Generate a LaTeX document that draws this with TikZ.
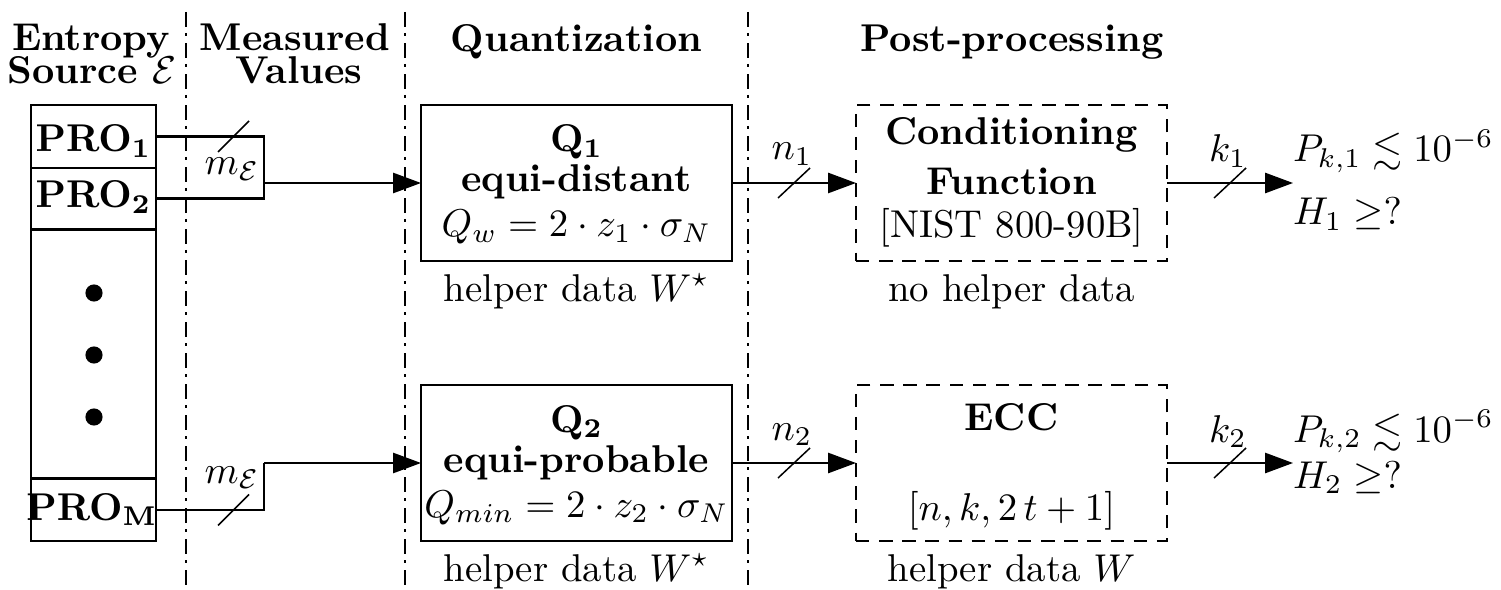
\documentclass[tikz,border=0pt]{standalone}
\usepackage{amsmath,amssymb}
\usetikzlibrary{arrows.meta}
\begin{document}
\begin{tikzpicture}[x=0.258pt,y=-0.258pt,
  every node/.style={inner sep=0pt, outer sep=0pt},
  sep/.style={line width=0.48pt, dash pattern=on 3.85pt off 1.55pt on 0.77pt off 1.83pt},
  wire/.style={line width=0.53pt},
  arr/.style={wire,-{Triangle[length=7.2pt,width=5.2pt]}},
  slash/.style={line width=0.39pt},
  qbox/.style={draw,line width=0.53pt,minimum width=311*0.258pt,minimum height=156*0.258pt},
  pbox/.style={qbox,dash pattern=on 3.47pt off 2.5pt},
  cell/.style={draw,line width=0.53pt,minimum width=125*0.258pt},
  lbl/.style={anchor=base},
  rlbl/.style={anchor=base west},
  head/.style={anchor=base,font=\bfseries},
  dot/.style={circle,fill,minimum size=4.43pt}
]
\useasboundingbox (0,0) rectangle (1501,589);

% separators
\draw[sep] (186,12) -- (186,589);
\draw[sep] (405,12) -- (405,589);
\draw[sep] (748,12) -- (748,589);

% headings
\node[head] (h1a) at (91,51) {Entropy};
\node[head] (h1b) at (92,84) {Source $\mathcal{E}$};
\node[head] (h2a) at (295,51) {Measured};
\node[head] (h2b) at (299,84) {Values};
\node[head] (h3) at (576.5,52) {Quantization};
\node[head] (h4) at (1012,52) {Post-processing};

% PRO stack
\node[cell,minimum height=63*0.258pt] (pro1) at (93.5,136.5) {};
\node[cell,minimum height=61*0.258pt] (pro2) at (93.5,198.5) {};
\node[cell,minimum height=249*0.258pt] (prod) at (93.5,354) {};
\node[cell,minimum height=62*0.258pt] (prom) at (93.5,510) {};
\node[lbl] (t1) at (93.5,152) {$\mathbf{PRO_1}$};
\node[lbl] (t2) at (93.5,208) {$\mathbf{PRO_2}$};
\node[lbl] (tm) at (92,520) {$\mathbf{PRO_M}$};
\node[dot] (d1) at (94,293) {};
\node[dot] (d2) at (94,355) {};
\node[dot] (d3) at (94,417) {};

% Quantizer boxes
\node[qbox] (q1) at (576.5,183) {};
\node[lbl] (q1a) at (576.5,152) {$\mathbf{Q_1}$};
\node[lbl,font=\bfseries] (q1b) at (576.5,192) {equi-distant};
\node[lbl] (q1c) at (576.5,237) {$Q_w = 2\cdot z_1\cdot \sigma_N$};
\node[lbl] (q1d) at (576.5,301) {helper data $W^\star$};

\node[qbox] (q2) at (576.5,463) {};
\node[lbl] (q2a) at (576.5,432) {$\mathbf{Q_2}$};
\node[lbl,font=\bfseries] (q2b) at (576.5,472) {equi-probable};
\node[lbl] (q2c) at (576.5,517) {$Q_{min} = 2\cdot z_2\cdot \sigma_N$};
\node[lbl] (q2d) at (576.5,581) {helper data $W^\star$};

% Post-processing boxes
\node[pbox] (cf) at (1011.5,183) {};
\node[lbl,font=\bfseries] (cfa) at (1011.5,145) {Conditioning};
\node[lbl,font=\bfseries] (cfb) at (1011.5,195) {Function};
\node[lbl] (cfc) at (1011.5,238) {[NIST 800-90B]};
\node[lbl] (cfd) at (1011.5,301) {no helper data};

\node[pbox] (ecc) at (1011.5,463) {};
\node[lbl,font=\bfseries] (ecca) at (1011.5,430) {ECC};
\node[lbl] (eccb) at (1011.5,520) {$[n,k,2\,t+1]$};
\node[lbl] (eccc) at (1011.5,581) {helper data $W$};

% wiring, upper
\coordinate (c1) at (264,136.5);
\coordinate (c2) at (264,198.5);
\coordinate (j1) at (264,183);
\draw[wire] (pro1.east) -- (c1) -- (c2) -- (pro2.east);
\draw[arr] (j1) -- (q1.west);
\coordinate (s1) at (233.5,136.5);
\draw[slash] ([shift={(-15.5,15.5)}]s1) -- ([shift={(15.5,-15.5)}]s1);
\node[lbl] (m1) at (232,175) {$m_{\mathcal{E}}$};

% wiring, lower
\coordinate (j2) at (264,463);
\draw[wire] (prom.east) -| (j2);
\draw[arr] (j2) -- (q2.west);
\coordinate (s2) at (233.5,510);
\draw[slash] ([shift={(-15.5,15.5)}]s2) -- ([shift={(15.5,-15.5)}]s2);
\node[lbl] (m2) at (232,483) {$m_{\mathcal{E}}$};

% quantizer -> post-processing
\draw[arr] (q1.east) -- (q1.east -| cf.west);
\coordinate (s3) at (794,183);
\draw[slash] ([shift={(-16,15)}]s3) -- ([shift={(16,-15)}]s3);
\node[lbl] (n1) at (792,160) {$n_1$};

\draw[arr] (q2.east) -- (q2.east -| ecc.west);
\coordinate (s4) at (794,463);
\draw[slash] ([shift={(-16,15)}]s4) -- ([shift={(16,-15)}]s4);
\node[lbl] (n2) at (792,440) {$n_2$};

% outputs
\coordinate (o1) at (1293,183);
\draw[arr] (cf.east) -- (o1);
\coordinate (s5) at (1230,183);
\draw[slash] ([shift={(-16,15)}]s5) -- ([shift={(16,-15)}]s5);
\node[lbl] (k1) at (1228,162) {$k_1$};
\node[rlbl] (p1) at (1293,162) {$P_{k,1} \lesssim 10^{-6}$};
\node[rlbl] (e1) at (1293,225) {$H_1 \geq ?$};

\coordinate (o2) at (1293,463);
\draw[arr] (ecc.east) -- (o2);
\coordinate (s6) at (1230,463);
\draw[slash] ([shift={(-16,15)}]s6) -- ([shift={(16,-15)}]s6);
\node[lbl] (k2) at (1228,442) {$k_2$};
\node[rlbl] (p2) at (1293,442) {$P_{k,2} \lesssim 10^{-6}$};
\node[rlbl] (e2) at (1293,488) {$H_2 \geq ?$};
\end{tikzpicture}
\end{document}
